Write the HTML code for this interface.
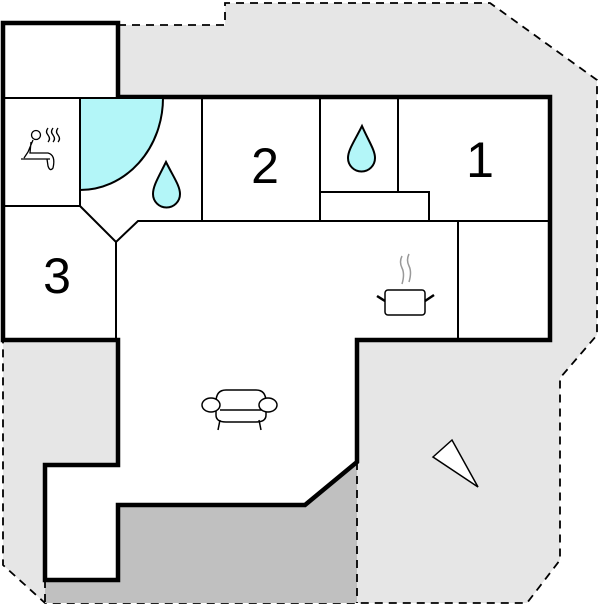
<!DOCTYPE html>
<html><head><style>html,body{margin:0;padding:0;background:#fff}svg{display:block}</style></head>
<body>
<svg width="600" height="605" viewBox="0 0 600 605" xmlns="http://www.w3.org/2000/svg">
<polygon points="118,25 225,25 225,3 490,3 597,80 597,335 560,378 560,560 527,603 45,603 3,565 3,340 118,340" fill="#e6e6e6" stroke="none"/>
<polyline points="118,25 225,25 225,3 490,3 597,80 597,335 560,378 560,560 527,603 45,603 3,565 3,340" fill="none" stroke="#000" stroke-width="1.8" stroke-dasharray="8,6"/>
<polygon points="118,505 305,505 357,462 357,603 45,603 45,580 118,580" fill="#c0c0c0"/>
<line x1="357" y1="462" x2="357" y2="603" stroke="#000" stroke-width="1.8" stroke-dasharray="8,6"/>
<line x1="45" y1="580" x2="45" y2="603" stroke="#000" stroke-width="1.8" stroke-dasharray="8,6"/>
<polygon points="3,23 118,23 118,97 550,97 550,340 357,340 357,462 305,505 118,505 118,580 45,580 45,465 118,465 118,340 3,340" fill="#fff" stroke="#000" stroke-width="4.5" stroke-linejoin="miter"/>
<path d="M80,98 L163,98 A83,92 0 0 1 80,190 Z" fill="#b3f6f8" stroke="#000" stroke-width="2"/>
<g stroke="#000" stroke-width="2" fill="none">
<line x1="3" y1="98" x2="118" y2="98"/>
<line x1="80" y1="98" x2="80" y2="206"/>
<line x1="3" y1="206" x2="80" y2="206"/>
<polyline points="80,206 116,242 138,221 550,221"/>
<line x1="116" y1="242" x2="116" y2="340"/>
<line x1="202" y1="98" x2="202" y2="221"/>
<line x1="320" y1="98" x2="320" y2="221"/>
<line x1="398" y1="98" x2="398" y2="192"/>
<polyline points="320,192 429,192 429,221"/>
<line x1="458" y1="221" x2="458" y2="340"/>
</g>
<path d="M166,162 C158,178 153,186 153,194 A13,13 0 0 0 180,194 C180,186 174,178 166,162 Z" fill="#b3f6f8" stroke="#000" stroke-width="2"/>
<path d="M362,126 C354,142 348,150 348,158 A13,13 0 0 0 375,158 C375,150 369,142 362,126 Z" fill="#b3f6f8" stroke="#000" stroke-width="2"/>
<g font-family="Liberation Sans, sans-serif" font-size="50" fill="#000" text-anchor="middle">
<text x="265" y="183">2</text>
<text x="480" y="177">1</text>
<text x="57" y="293">3</text>
</g>
<g stroke="#000" stroke-width="1.3" fill="none">
<circle cx="36" cy="135" r="4.5"/>
<path d="M33,140 L28,152 L24,158 M21,159 L50,159 M31,142 L30,153 L48,153 Q56,155 53,168 Q50,172 48,166 L47,159"/>
<path d="M48,128 q-3,4 0,7 q3,4 0,7 M53,128 q-3,4 0,7 q3,4 0,7 M58,128 q-3,4 0,7 q3,4 0,7"/>
</g>
<g stroke="#000" stroke-width="1.5" fill="none">
<rect x="385" y="290" width="40" height="25" rx="3" fill="#fff"/>
<line x1="377" y1="296" x2="385" y2="301" stroke-width="2.5"/>
<line x1="425" y1="301" x2="434" y2="295" stroke-width="2.5"/>
<path d="M402,256 q-3,6 0,12 q3,6 0,16 M409,254 q-3,6 0,12 q3,6 0,16" stroke="#999"/>
</g>
<g stroke="#000" stroke-width="1.5" fill="#fff">
<path d="M216,402 Q216,390 226,390 L256,390 Q266,390 266,402 L266,415 Q266,422 256,422 L226,422 Q216,422 216,415 Z"/>
<line x1="220" y1="420" x2="218" y2="430"/>
<line x1="259" y1="420" x2="261" y2="430"/>
<line x1="220" y1="410" x2="262" y2="410"/>
<ellipse cx="211" cy="405" rx="9" ry="7"/>
<ellipse cx="268" cy="405" rx="9" ry="7"/>
</g>
<polygon points="433,457 452,440 478,487" fill="#fff" stroke="#000" stroke-width="1.5"/>
</svg>
</body></html>
